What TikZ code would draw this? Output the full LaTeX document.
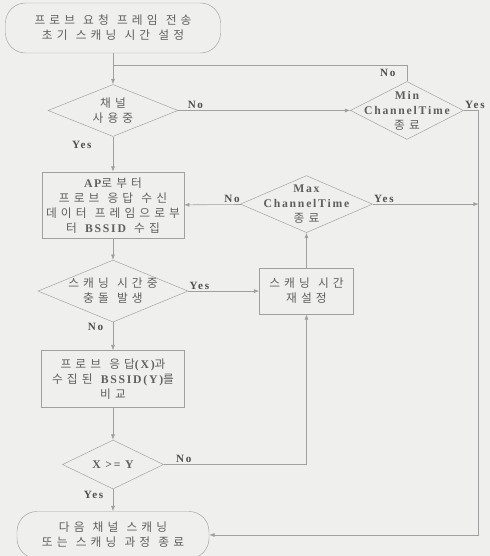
\documentclass[tikz,border=0pt]{standalone}
\usepackage{fontspec}
\setmainfont{Liberation Serif}
\newfontfamily\kr{Noto Sans CJK KR}
\newfontfamily\enfont[LetterSpace=15]{Liberation Serif}
\newcommand\en[1]{{\enfont\bfseries\spaceskip=0pt #1}}
% wider spacing between Hangul syllables
\XeTeXinterchartokenstate=1
\newXeTeXintercharclass\hangulclass
\newcount\hc
\hc="AC00
\loop
  \XeTeXcharclass\hc=\hangulclass
  \advance\hc by 1
\ifnum\hc<"D7A4 \repeat
\XeTeXinterchartoks\hangulclass\hangulclass={\hskip0.35em\relax}
\newcommand\krtext{\fontsize{10}{12.8}\kr\lineskiplimit=-20pt\spaceskip=0.7em\relax}
\usepackage{xcolor}
\usepackage{tikz}
\usetikzlibrary{shapes.geometric,arrows.meta,positioning,calc}
\definecolor{paper}{RGB}{239,239,237}
\definecolor{wire}{RGB}{160,160,160}
\definecolor{ink}{RGB}{95,95,95}
\definecolor{enink}{RGB}{80,80,80}

\begin{document}
\begin{tikzpicture}[
  termbox/.style={draw=wire, rectangle, rounded corners=0.6cm, align=center, font=\krtext, text=ink},
  procbox/.style={draw=wire, rectangle, align=center, font=\krtext, text=ink},
  dec/.style={draw=wire, diamond, inner sep=0pt},
  dtxt/.style={align=center, font=\krtext, text=ink},
  arr/.style={-{Latex[length=1.6mm, width=1.2mm]}, draw=wire, line width=0.5pt},
  link/.style={draw=wire, line width=0.5pt},
  lbl/.style={font=\fontsize{9.5}{11}\enfont\bfseries, text=enink, inner sep=1pt}
]

\fill[paper] (0,0) rectangle (14.7,-16.68);
\useasboundingbox (0,0) rectangle (14.7,-16.68);

\node[termbox, minimum width=6.45cm, minimum height=1.5cm] (start) at (3.39,-0.84) {프로브 요청 프레임 전송\\초기 스캐닝 시간 설정};
\node[dec, minimum width=3.9cm, minimum height=1.56cm, below=0.93cm of start, label={[dtxt]center:{채널\\사용중}}] (busy) {};
\node[procbox, minimum width=4.2cm, minimum height=2cm, below=1.05cm of busy] (recv) {\en{AP}로부터\\프로브 응답 수신\\데이터 프레임으로부\\터 \en{BSSID} 수집};
\node[dec, minimum width=4.5cm, minimum height=1.86cm, below=0.63cm of recv, label={[dtxt]center:{스캐닝 시간중\\충돌 발생}}] (coll) {};
\node[procbox, minimum width=4.3cm, minimum height=1.71cm, below=0.84cm of coll] (cmp) {프로브 응답\en{(X)}과\\수집된 \en{BSSID(Y)}를\\비교};
\node[dec, minimum width=3.03cm, minimum height=1.47cm, below=0.96cm of cmp, label={[dtxt]center:{\en{X >= Y}}}] (test) {};
\node[termbox, minimum width=5.76cm, minimum height=1.41cm, below=0.66cm of test] (next) {다음 채널 스캐닝\\또는 스캐닝 과정 종료};

\node[procbox, minimum width=2.82cm, minimum height=1.38cm, right=2.13cm of coll] (reset) {스캐닝 시간\\재설정};
\node[dec, minimum width=3.96cm, minimum height=1.71cm, above=1.05cm of reset, label={[dtxt]center:{\en{Max}\\\en{ChannelTime}\\종료}}] (maxt) {};
\node[dec, minimum width=3.39cm, minimum height=1.74cm, right=5.16cm of busy, label={[dtxt]center:{\en{Min}\\\en{ChannelTime}\\종료}}] (mint) {};

\coordinate (edge) at ($(mint.east)+(0.45,0)$);
\coordinate (join) at ($(start.south)!0.39!(busy.north)$);

% main column
\draw[arr] (start) -- (busy);
\draw[arr] (busy) -- node[lbl, pos=0.23, left=0.6cm] {Yes} (recv);
\draw[arr] (recv) -- (coll);
\draw[arr] (coll) -- node[lbl, pos=0.15, left=0.25cm] {No} (cmp);
\draw[arr] (cmp) -- (test);
\draw[arr] (test) -- node[lbl, pos=0.27, left=0.25cm] {Yes} (next);

% side branches
\draw[arr] (busy) -- node[lbl, pos=0.1, above] {No} (mint);
\draw[link] (mint.north) |- node[lbl, pos=0.25, left=0.3cm] {No} (join);
\draw[arr] (mint.east) -- node[lbl, pos=0, above right] {Yes} (edge) |- (next.east);
\draw[arr] (coll) -- node[lbl, pos=0, above right] {Yes} (reset);
\draw[arr] (test.east) -| node[lbl, pos=0.07, above] {No} (reset.south);
\draw[arr] (reset) -- (maxt);
\draw[arr] (maxt) -- node[lbl, pos=0, above left] {No} (recv);
\draw[arr] (maxt.east) -- node[lbl, pos=0, above right] {Yes} (maxt.east -| edge);

\end{tikzpicture}
\end{document}
